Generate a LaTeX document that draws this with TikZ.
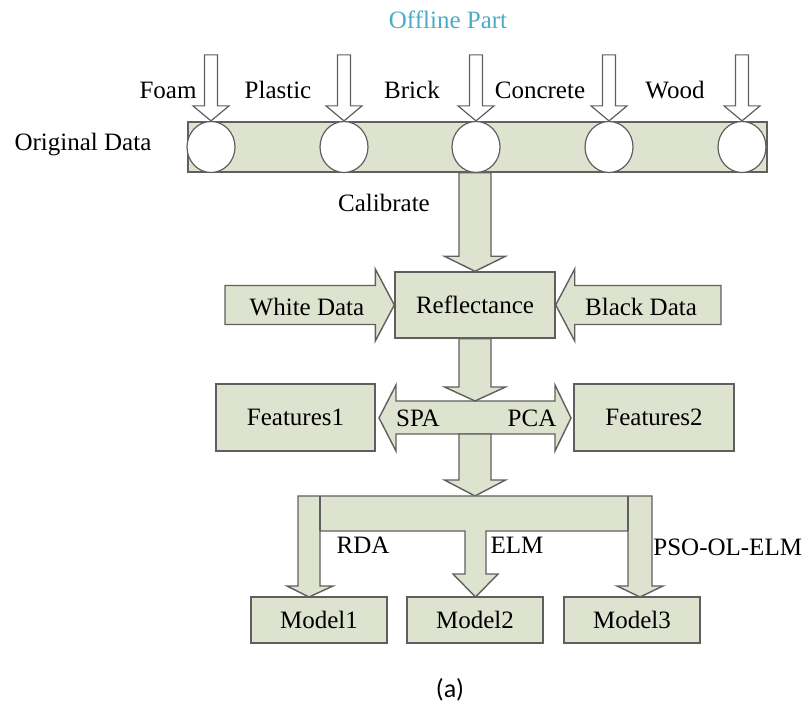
\documentclass[tikz,border=0pt]{standalone}
\usepackage{fontspec}
\setmainfont{Liberation Serif}
\newfontfamily\boxfont{Liberation Serif}
\newfontfamily\capfont{Carlito}
\usepackage{tikz}
\usetikzlibrary{shapes.geometric}
\usetikzlibrary{positioning}
\usetikzlibrary{calc}
\usepackage{xcolor}

\definecolor{panel}{RGB}{222,227,207}
\definecolor{edge}{RGB}{95,95,95}
\definecolor{offteal}{RGB}{75,172,198}

% block arrow: [style]{from}{tip}{shaft half width}{head half width}{head length}
\newcommand{\blockarrow}[6][]{%
	\coordinate (ba-h) at ($(#3)!#6!(#2)$);
	\filldraw[#1] ($(#2)!#4!90:(#3)$) -- ($(ba-h)!#4!90:(#3)$) -- ($(ba-h)!#5!90:(#3)$)
		-- (#3) -- ($(ba-h)!#5!-90:(#3)$) -- ($(ba-h)!#4!-90:(#3)$) -- ($(#2)!#4!-90:(#3)$) -- cycle;
}

\tikzset{
	box/.style={rectangle, draw=edge, fill=panel, line width=0.7pt, font=\boxfont\fontsize{12.5}{14}\selectfont},
	solid arrow/.style={draw=edge, fill=panel, line width=0.7pt},
	open arrow/.style={draw=edge, fill=white, line width=0.6pt},
	txt/.style={font=\boxfont\fontsize{12.5}{14}\selectfont},
}

\begin{document}
\begin{tikzpicture}[x=0.5pt, y=-0.5pt]
	\useasboundingbox (0,0) rectangle (807,704);

	\node[txt, text=offteal] (title) at (448,20) {Offline Part};

	% raw data bar with the five samples
	\node[box, minimum width=289.5pt, minimum height=25pt, inner sep=0pt] (orig) at (477.5,147) {};
	\node[txt] (origlab) at (83,145) {Original Data};
	\foreach \i/\x in {1/211, 2/344, 3/476, 4/609, 5/742} {
		\node[ellipse, draw=edge, fill=white, line width=0.6pt, minimum width=24pt, minimum height=25.5pt, inner sep=0pt] (c\i) at (\x,147) {};
		\coordinate (in\i) at ($(c\i.north)+(0,-66)$);
		\blockarrow[open arrow]{in\i}{c\i.north}{3.25pt}{9pt}{7.5pt}
	}
	\node[txt] (foam) at (168,90) {Foam};
	\node[txt] (plastic) at (278,90) {Plastic};
	\node[txt] (brick) at (412,90) {Brick};
	\node[txt] (concrete) at (540,90) {Concrete};
	\node[txt] (wood) at (675,90) {Wood};

	% calibration
	\node[box, minimum width=80pt, minimum height=33pt] (refl) at (475,305) {Reflectance};
	\coordinate (calfrom) at (refl.north |- orig.south);
	\blockarrow[solid arrow]{calfrom}{refl.north}{8pt}{15.25pt}{7.5pt}
	\node[txt] (calib) at (384,203) {Calibrate};

	\coordinate (white) at (225,305);
	\coordinate (black) at (721,305);
	\blockarrow[solid arrow]{white}{refl.west}{9.75pt}{18pt}{9.5pt}
	\blockarrow[solid arrow]{black}{refl.east}{9.75pt}{18pt}{9.5pt}
	\node[txt] (whitelab) at (307,307) {White Data};
	\node[txt] (blacklab) at (641,307) {Black Data};

	% feature extraction
	\node[box, minimum width=79.5pt, minimum height=33.5pt] (feat1) at (295.5,417.5) {Features1};
	\node[box, minimum width=80pt, minimum height=33.5pt] (feat2) at (654,417.5) {Features2};
	\filldraw[solid arrow] (396,401) -- (555,401) -- (555,385) -- (571,418) -- (555,451) -- (555,434)
		-- (396,434) -- (396,451) -- (379,418) -- (396,385) -- cycle;
	\coordinate (spatop) at (475,401);
	\coordinate (spabot) at (475,434);
	\blockarrow[solid arrow]{refl.south}{spatop}{8pt}{15.25pt}{7pt}
	\node[txt] (spa) at (418,418) {SPA};
	\node[txt] (pca) at (532,418) {PCA};

	% models
	\node[box, minimum width=68pt, minimum height=23pt] (model1) at (319,620) {Model1};
	\node[box, minimum width=68pt, minimum height=23pt] (model2) at (475,620) {Model2};
	\node[box, minimum width=68pt, minimum height=23pt] (model3) at (632,620) {Model3};
	\coordinate (split) at (475,496);
	\blockarrow[solid arrow]{spabot}{split}{8pt}{15.25pt}{8pt}
	\filldraw[solid arrow] (298,496) -- (652,496) -- (652,586) -- (663,586) -- (640,597) -- (617,586)
		-- (628,586) -- (628,531) -- (486,531) -- (486,574) -- (498,574) -- (475.5,597) -- (453,574)
		-- (465,574) -- (465,531) -- (320,531) -- (320,586) -- (333,586) -- (309,597) -- (287,586)
		-- (298,586) -- cycle;
	\draw[edge, line width=0.7pt] (320,496) -- (320,531) (628,496) -- (628,531);
	\node[txt] (rda) at (363,545) {RDA};
	\node[txt] (elm) at (517,545) {ELM};
	\node[txt, anchor=west, inner sep=0pt] (pso) at (653,547) {PSO-OL-ELM};

	\node[font=\capfont\fontsize{13}{15}\selectfont] (caption) at (450,690) {(a)};
\end{tikzpicture}
\end{document}
